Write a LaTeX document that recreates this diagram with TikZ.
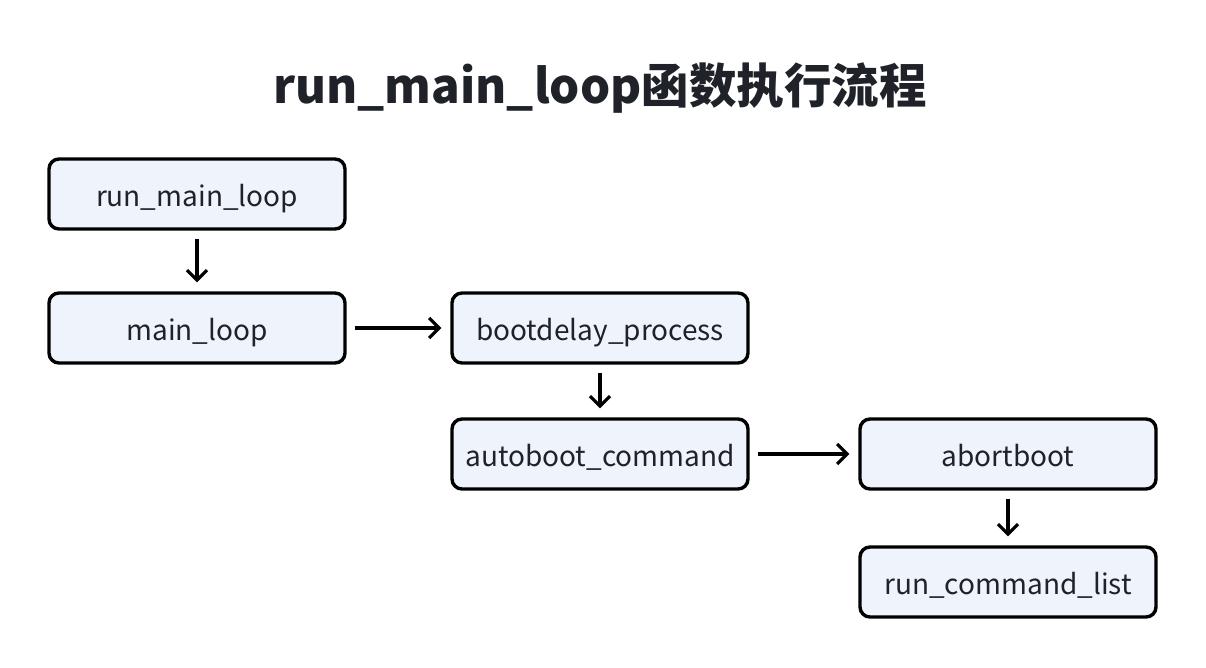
\documentclass[tikz,border=0pt]{standalone}
\usepackage{fontspec}
\setmainfont{Noto Sans CJK SC}
\usetikzlibrary{arrows.meta}
\definecolor{boxfill}{HTML}{EFF3FC}
\definecolor{txt}{HTML}{1F2329}
\newcommand{\lowtxt}[1]{\raisebox{-12.5pt}[0pt][0pt]{#1}}
\tikzset{
  fbox/.style={draw=black, line width=3.4pt, rounded corners=10pt, fill=boxfill,
    minimum width=296pt, minimum height=70pt, inner sep=0pt, text=txt,
    font=\fontsize{28}{32}\selectfont},
  arr/.style={line width=3.2pt, -{Straight Barb[length=10pt,width=20pt,line width=3.2pt]}, shorten >=1pt},
}
\begin{document}
\begin{tikzpicture}[x=1pt,y=-1pt]
\useasboundingbox (0,0) rectangle (1206,668);
\node[font=\fontsize{47.5}{52}\selectfont\bfseries, text=txt] (title) at (600,88) {run\_main\_loop函数执行流程};
\node[fbox] (a) at (197,194) {\lowtxt{run\_main\_loop}};
\node[fbox] (b) at (197,328) {\lowtxt{main\_loop}};
\node[fbox] (c) at (600,328) {\lowtxt{bootdelay\_process}};
\node[fbox] (d) at (600,454) {\lowtxt{autoboot\_command}};
\node[fbox] (e) at (1008,454) {\lowtxt{abortboot}};
\node[fbox] (f) at (1008,582) {\lowtxt{run\_command\_list}};
\draw[arr] ([yshift=-8pt]a.south) -- ([yshift=8pt]b.north);
\draw[arr] ([xshift=8pt]b.east) -- ([xshift=-8pt]c.west);
\draw[arr] ([yshift=-8pt]c.south) -- ([yshift=8pt]d.north);
\draw[arr] ([xshift=8pt]d.east) -- ([xshift=-8pt]e.west);
\draw[arr] ([yshift=-8pt]e.south) -- ([yshift=8pt]f.north);
\end{tikzpicture}
\end{document}
